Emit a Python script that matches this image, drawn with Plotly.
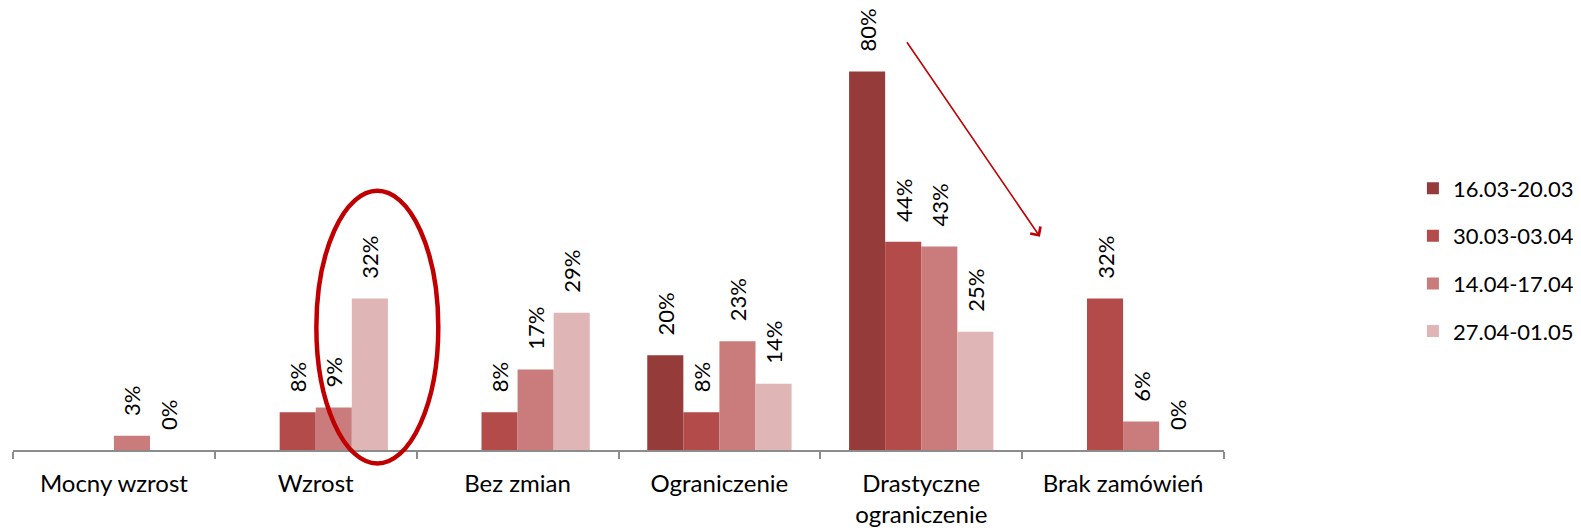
import plotly.graph_objects as go

categories = ["Mocny wzrost", "Wzrost", "Bez zmian", "Ograniczenie",
              "Drastyczne<br>ograniczenie", "Brak zamówień"]
series_names = ["16.03-20.03", "30.03-03.04", "14.04-17.04", "27.04-01.05"]
s1 = [None, None, None, 20, 80, None]
s2 = [None, 8, 8, 8, 44, 32]
s3 = [3, 9, 17, 23, 43, 6]
s4 = [0, 32, 29, 14, 25, 0]
colors = ["#953b3a", "#b34b4a", "#c97c7b", "#dfb5b5"]

PAD = "\u00a0\u00a0\u00a0"  # a little air between bar and label, like Excel

fig = go.Figure()
for name, vals, col in zip(series_names, [s1, s2, s3, s4], colors):
    fig.add_trace(go.Bar(
        x=categories,
        y=vals,
        name=name,
        legendgroup=name,
        marker=dict(color=col, line=dict(width=0)),
        text=[PAD + f"{v}%" if v is not None else "" for v in vals],
        textposition="outside",
        textangle=-90,
        constraintext="none",
        textfont=dict(size=22, color="#000"),
        cliponaxis=False,
    ))

# red ellipse around Wzrost bars
fig.add_shape(type="circle", xref="paper", yref="paper",
              x0=0.2505, x1=0.3512, y0=-0.0305, y1=0.5864,
              line=dict(color="#C00000", width=4.5))

# arrow from the 80% peak down to "Brak zamówień"
fig.add_annotation(xref="paper", yref="paper", x=0.848, y=0.4825,
                   ax=-134, ay=-196, showarrow=True, text="",
                   arrowhead=4, arrowsize=1.5, arrowwidth=1.6,
                   arrowcolor="#C00000")

# page body has an 8px default margin, so the figure is 8px smaller
fig.update_layout(
    width=1573, height=522,
    barmode="group",
    bargap=0.285,
    bargroupgap=0,
    margin=dict(l=4.5, r=357, t=0, b=79.5, autoexpand=False),
    paper_bgcolor="white",
    plot_bgcolor="white",
    font=dict(family="Lato, Open Sans, sans-serif", size=22, color="#000"),
    showlegend=True,
    legend=dict(x=1.156, y=0.43, xanchor="left", yanchor="middle",
                font=dict(size=22), tracegroupgap=16, itemwidth=30,
                traceorder="grouped"),
    xaxis=dict(
        showline=True, linecolor="#8c8c8c", linewidth=1.5,
        ticks="outside", tickson="boundaries", ticklen=7,
        tickcolor="#8c8c8c", tickwidth=1.5, tickfont=dict(size=24),
        ticklabelstandoff=11, automargin=False,
        showgrid=False,
    ),
    yaxis=dict(range=[0, 93.4], visible=False, showgrid=False, automargin=False),
)

fig.write_html("out.html")
